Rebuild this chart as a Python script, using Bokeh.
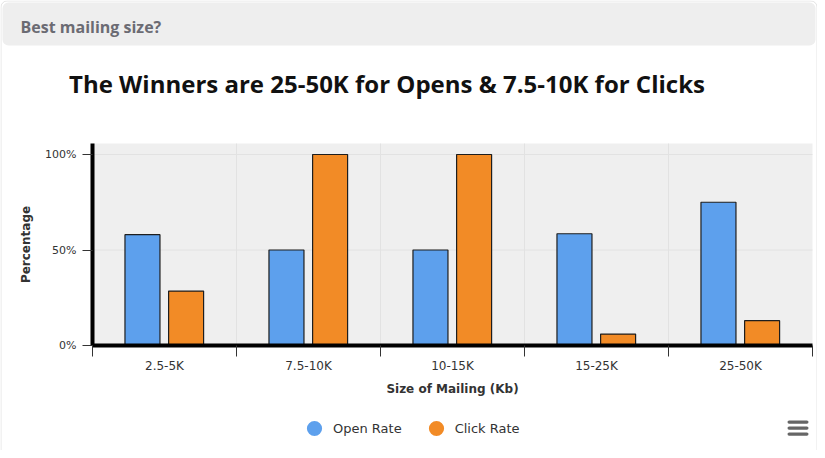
from bokeh.plotting import figure
from bokeh.models import (Range1d, FixedTicker, ColumnDataSource, Label,
                          BoxAnnotation, Legend, LegendItem, LinearAxis)
from bokeh.transform import dodge
from bokeh.embed import file_html
from bokeh.resources import INLINE

# ---- data ----
categories = ["2.5-5K", "7.5-10K", "10-15K", "15-25K", "25-50K"]
open_rate = [58, 50, 50, 58.5, 75]
click_rate = [28.5, 100, 100, 6, 13]
series_names = ["Open Rate", "Click Rate"]
y_ticks = [0, 50, 100]
y_tick_labels = ["0%", "50%", "100%"]
header_text = "Best mailing size?"
title_text = "The Winners are 25-50K for Opens & 7.5-10K for Clicks"
x_title = "Size of Mailing (Kb)"
y_title = "Percentage"

BLUE = "#5da0ed"
ORANGE = "#f28b26"

# ---- layout constants (pixels) ----
W, H = 817, 450
PLOT_LEFT_PX = 92      # x pixel of category axis start
CAT_PX = 144           # pixels per category
AXIS_PX = 345          # y pixel of 0 %
PCT_PX = 1.91          # pixels per percent
PLOT_TOP_PX = 143
Y_MAX = (AXIS_PX - PLOT_TOP_PX) / PCT_PX
N = len(categories)

idx = list(range(N))
centers = [i + 0.5 for i in idx]
src = ColumnDataSource(dict(cat=categories, pos=centers,
                            open=open_rate, click=click_rate))

p = figure(width=W, height=H, output_backend="svg", toolbar_location=None,
           x_range=Range1d(-PLOT_LEFT_PX / CAT_PX, (W - PLOT_LEFT_PX) / CAT_PX),
           y_range=Range1d((AXIS_PX - H) / PCT_PX, AXIS_PX / PCT_PX),
           x_axis_location=None, y_axis_location=None,
           min_border=0)
p.min_border_left = p.min_border_right = p.min_border_top = p.min_border_bottom = 0
p.background_fill_color = "white"
p.border_fill_color = "white"
p.outline_line_color = None
p.grid.visible = False


def sy(py):
    return H - py


def box(left, right, top, bottom, **kw):
    return BoxAnnotation(left=left, right=right, top=sy(top), bottom=sy(bottom),
                         left_units="screen", right_units="screen",
                         top_units="screen", bottom_units="screen", **kw)


# card border + header bar
p.add_layout(box(0.5, 816.5, 0.5, 470, fill_alpha=0, line_color="#a8a8a8",
                 line_width=1, border_radius=6))
p.add_layout(box(2, 815, 2, 45, fill_color="#eeeeee", fill_alpha=1,
                 line_color=None, border_radius=6))

# plot area background
p.add_layout(BoxAnnotation(left=0, right=N, bottom=0, top=Y_MAX,
                           fill_color="#efefef", fill_alpha=1, line_color=None,
                           level="image"))

# grid lines
p.segment(x0=list(range(1, N)), x1=list(range(1, N)), y0=0, y1=Y_MAX,
          line_color="#e2e2e2", line_width=1, level="underlay")
p.segment(x0=0, x1=N, y0=y_ticks[1:], y1=y_ticks[1:],
          line_color="#e2e2e2", line_width=1, level="underlay")

# bars
r_open = p.vbar(x=dodge("pos", -0.153, range=p.x_range), top="open", width=0.243,
                source=src, fill_color=BLUE, line_color="#1e1e1e", line_width=1.2)
r_click = p.vbar(x=dodge("pos", 0.150, range=p.x_range), top="click", width=0.243,
                 source=src, fill_color=ORANGE, line_color="#1e1e1e", line_width=1.2)

# x axis
xa = LinearAxis(fixed_location=0, bounds=(0, N))
xa.ticker = FixedTicker(ticks=centers, minor_ticks=list(range(N + 1)))
xa.major_label_overrides = {c: lab for c, lab in zip(centers, categories)}
xa.major_tick_line_color = None
xa.major_tick_out = 0
xa.major_tick_in = 0
xa.minor_tick_out = 11
xa.minor_tick_in = 0
xa.minor_tick_line_color = "#333333"
xa.axis_line_width = 4
xa.axis_line_color = "black"
xa.major_label_standoff = 2
xa.major_label_text_font = "DejaVu Sans"
xa.major_label_text_font_size = "12px"
xa.major_label_text_color = "#333333"
xa.axis_label = x_title
xa.axis_label_text_font = "DejaVu Sans"
xa.axis_label_text_font_style = "bold"
xa.axis_label_text_font_size = "12px"
xa.axis_label_text_color = "#333333"
xa.axis_label_standoff = 6
p.add_layout(xa, "below")

# y axis
ya = LinearAxis(fixed_location=0, bounds=(0, Y_MAX))
ya.ticker = FixedTicker(ticks=y_ticks, minor_ticks=[])
ya.major_label_overrides = dict(zip(y_ticks, y_tick_labels))
ya.major_tick_out = 10
ya.major_tick_in = 0
ya.major_tick_line_color = "#333333"
ya.minor_tick_line_color = None
ya.axis_line_width = 4
ya.axis_line_color = "black"
ya.major_label_standoff = 6
ya.major_label_text_font = "DejaVu Sans"
ya.major_label_text_font_size = "11px"
ya.major_label_text_color = "#333333"
ya.axis_label = y_title
ya.axis_label_text_font = "DejaVu Sans"
ya.axis_label_text_font_style = "bold"
ya.axis_label_text_font_size = "12px"
ya.axis_label_text_color = "#333333"
ya.axis_label_standoff = 9
p.add_layout(ya, "left")

# header and title texts
p.add_layout(Label(x=20, y=sy(33 - 6.5), x_units="screen", y_units="screen",
                   text=header_text, text_font="Open Sans", text_font_style="bold",
                   text_font_size="16px", text_color="#6b6b73",
                   text_baseline="alphabetic", text_align="left"))
p.add_layout(Label(x=386.5, y=sy(93.5 - 10.5), x_units="screen", y_units="screen",
                   text=title_text, text_font="Open Sans", text_font_style="bold",
                   text_font_size="24px", text_color="#111111",
                   text_baseline="alphabetic", text_align="center"))

# hamburger menu icon
for top_px in (420, 426, 432):
    p.add_layout(box(787, 808, top_px, top_px + 3.2, fill_color="#666666",
                     fill_alpha=1, line_color=None, border_radius=2))

# legend (dummy off-range markers)
leg_open = p.scatter(x=[-100], y=[-1000], size=15, marker="circle",
                     fill_color=BLUE, line_color=None)
leg_click = p.scatter(x=[-100], y=[-1000], size=15, marker="circle",
                      fill_color=ORANGE, line_color=None)
legend = Legend(items=[LegendItem(label=series_names[0], renderers=[leg_open]),
                       LegendItem(label=series_names[1], renderers=[leg_click])],
                orientation="horizontal", location=(314 - 19, int(sy(427.5 + 19))),
                glyph_width=38, glyph_height=38, label_standoff=-4, spacing=15,
                padding=0, margin=0, background_fill_alpha=0, border_line_color=None,
                label_text_font="DejaVu Sans", label_text_font_size="13px",
                label_text_color="#333333")
p.add_layout(legend, "center")

open("out.html", "w").write(file_html(p, INLINE))
